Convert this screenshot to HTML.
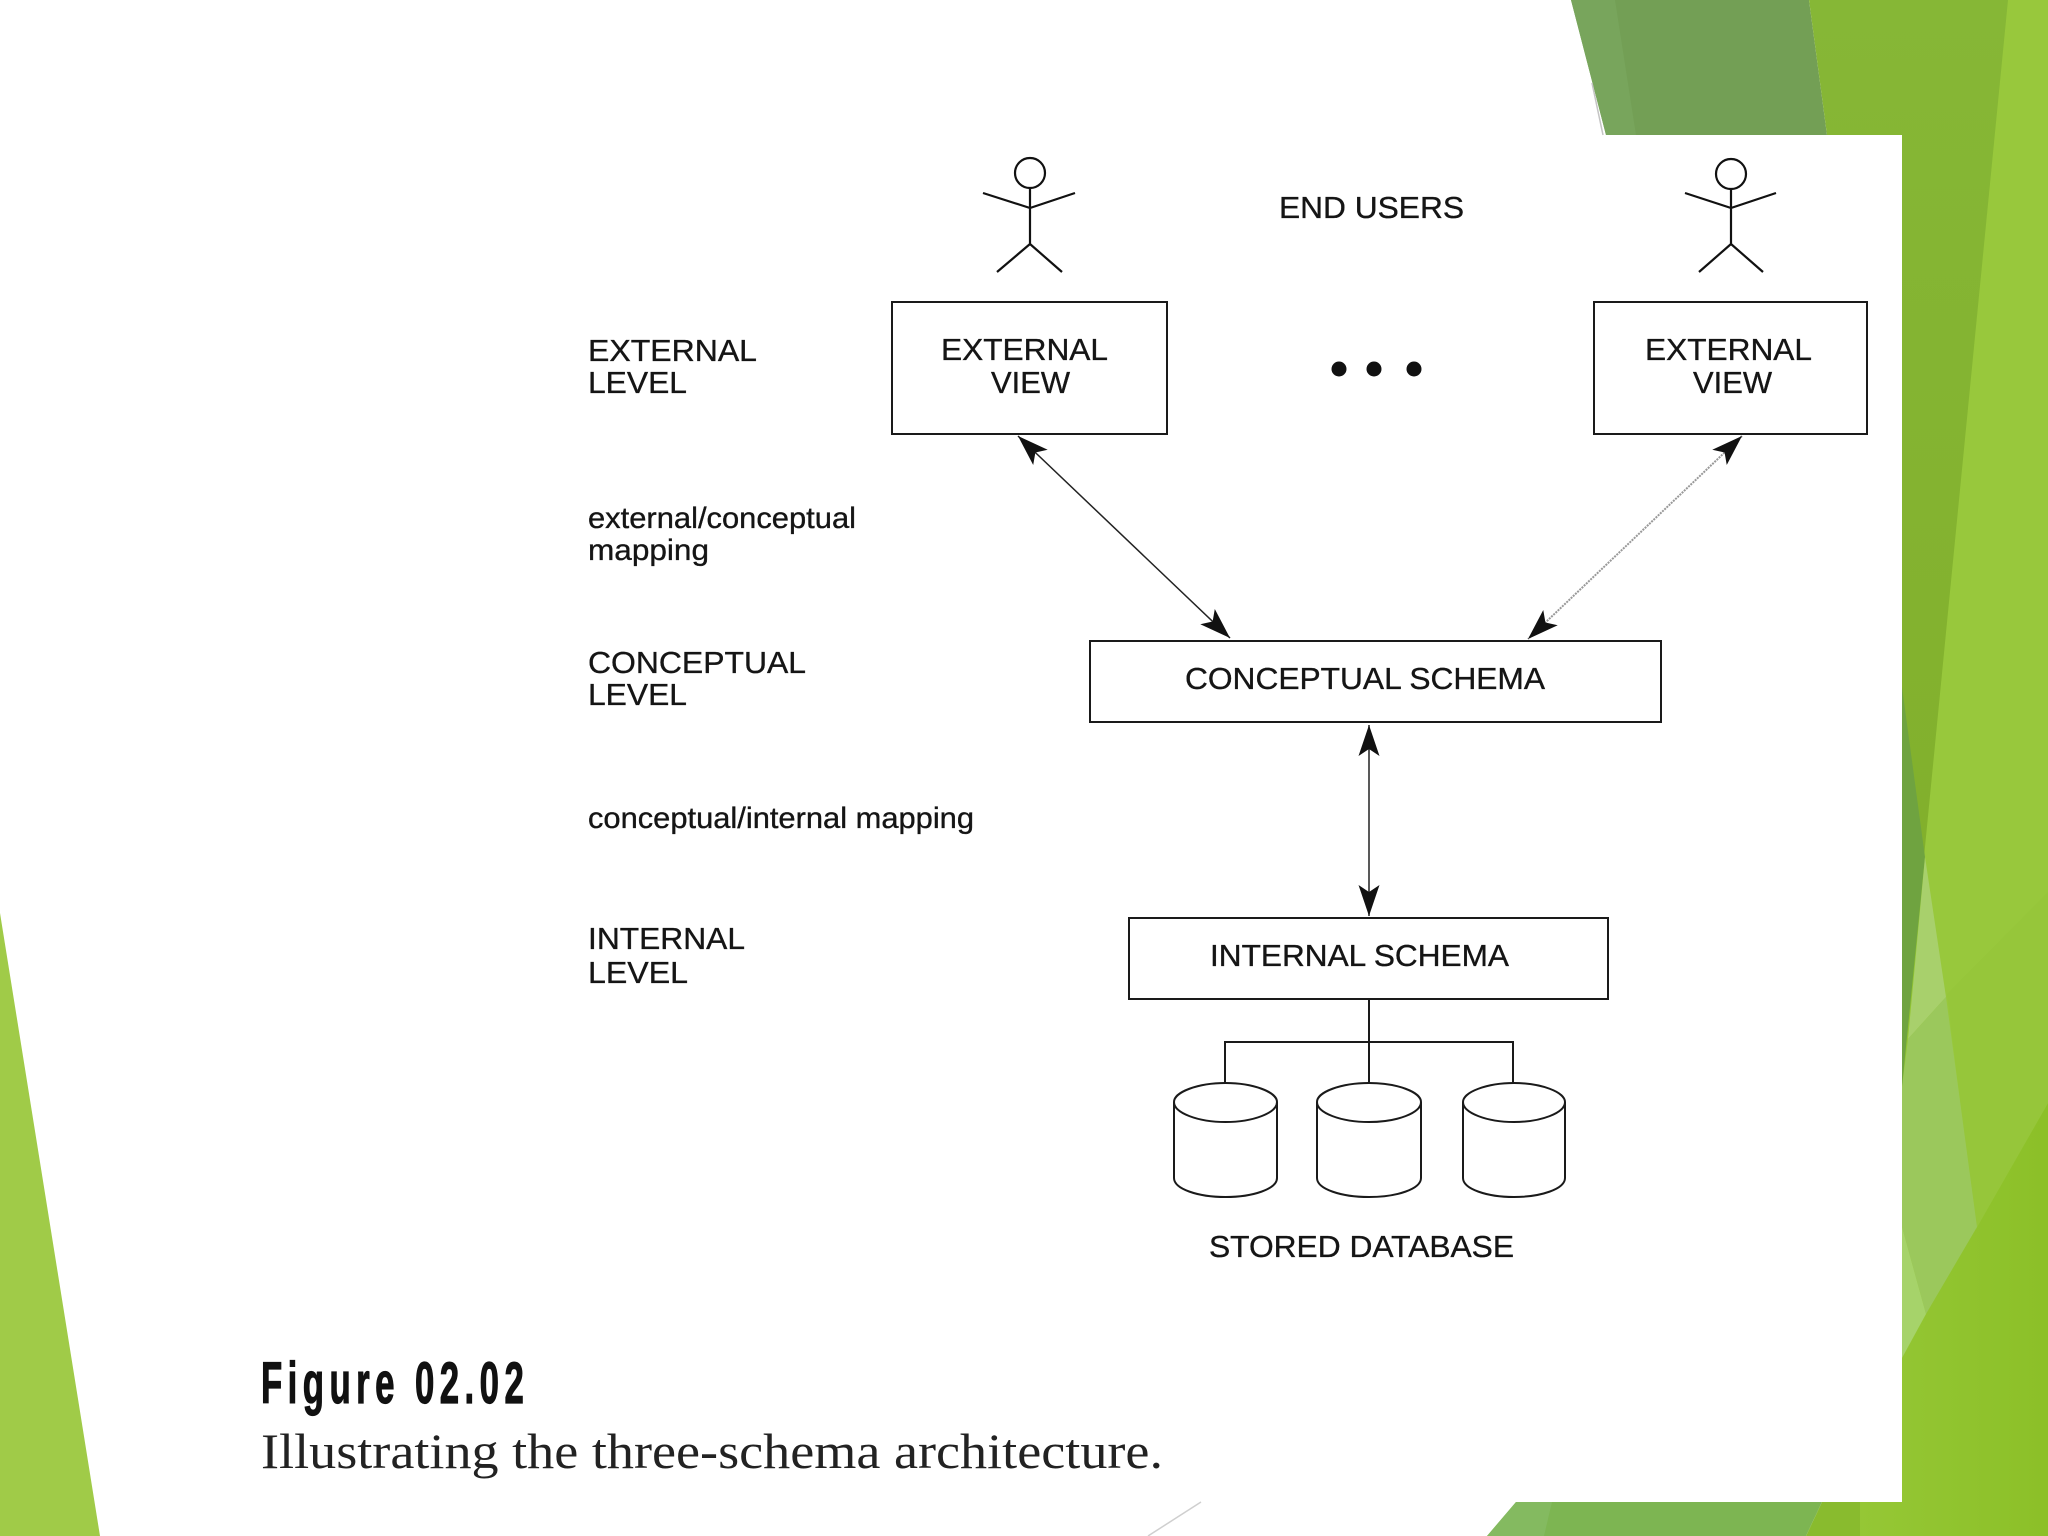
<!DOCTYPE html>
<html><head><meta charset="utf-8"><style>
html,body{margin:0;padding:0;background:#fff;width:2048px;height:1536px;overflow:hidden}
svg{display:block}
text{font-family:"Liberation Sans",Arial,sans-serif;font-size:31px;fill:#151515;stroke:#151515;stroke-width:.35px}
.s{font-size:30px}
</style></head><body>
<svg width="2048" height="1536" viewBox="0 0 2048 1536" xmlns="http://www.w3.org/2000/svg">
<defs>
<marker id="a" markerUnits="userSpaceOnUse" viewBox="-36 -14 40 28" refX="0" refY="0" markerWidth="40" markerHeight="28" orient="auto-start-reverse">
<path d="M0,0 L-31,-10.500 L-24,0 L-31,10.500 Z" fill="#111"/></marker>
<linearGradient id="g1" x1="0" y1="0" x2="0" y2="1"><stop offset="0" stop-color="#86b736"/><stop offset="1" stop-color="#82b02c"/></linearGradient>
<linearGradient id="g2" gradientUnits="userSpaceOnUse" x1="1860" y1="0" x2="2048" y2="0"><stop offset="0" stop-color="#95c735"/><stop offset="1" stop-color="#8cc028"/></linearGradient>
</defs>

<!-- background shapes -->
<polygon points="1571,0 1809,0 1827,135 1606,135" fill="#739f55"/>
<polygon points="1571,0 1615,0 1636,135 1606,135" fill="#78a55c"/>
<line x1="1592" y1="83" x2="1603" y2="135" stroke="#c4c4c4" stroke-width="1.500"/>
<rect x="1860" y="0" width="188" height="1536" fill="url(#g2)"/>
<polygon points="1809,0 2010,0 1925,857 1902,857 1880,400 1880,135 1827,135" fill="url(#g1)"/>
<polygon points="2008,0 2048,0 2048,1103 1976,1229 1924,857" fill="#98c83c"/>
<polygon points="1947,994 2048,892 2048,1103 1976,1229" fill="#96c63a"/>
<polygon points="1880,687 1902,687 1925,857 1902,1087 1880,1087" fill="#6fa340"/>
<polygon points="1925,857 1946,997 1908,1039" fill="#a8d06c"/>
<polygon points="1908,1039 1946,997 1977,1227 1926,1314 1902,1227 1902,1087" fill="#9bc85c"/>
<polygon points="1902,1227 1926,1314 1902,1358" fill="#a6d36a"/>
<polygon points="1516,1502 1822,1502 1806,1536 1487,1536" fill="#7db552"/>
<polygon points="1516,1502 1552,1502 1544,1536 1487,1536" fill="#84ba60"/>
<polygon points="1822,1502 1860,1502 1860,1536 1806,1536" fill="#89bb2e"/>
<polygon points="0,913 100,1536 0,1536" fill="#a0cb48"/>
<line x1="1148" y1="1536" x2="1201" y2="1502" stroke="#cfcfcf" stroke-width="1.500"/>
<!-- white panel cover -->
<polygon points="1620,135 1902,135 1902,1502 1600,1502" fill="#fff"/>

<!-- stick figures -->
<g fill="none" stroke="#111" stroke-width="2.200">
<circle cx="1030" cy="173" r="15"/>
<path d="M1030,188 V244 M983,193 L1030,208 L1075,193 M997,272 L1030,244 L1062,272"/>
<circle cx="1731" cy="174" r="15"/>
<path d="M1731,189 V244 M1685,193 L1731,208 L1776,193 M1699,272 L1731,244 L1763,272"/>
</g>

<!-- boxes -->
<g fill="none" stroke="#1a1a1a" stroke-width="2">
<rect x="892" y="302" width="275" height="132"/>
<rect x="1594" y="302" width="273" height="132"/>
<rect x="1090" y="641" width="571" height="81"/>
<rect x="1129" y="918" width="479" height="81"/>
<path d="M1369,999 V1083 M1225,1083 V1042 H1513 V1083"/>
</g>

<!-- dots -->
<circle cx="1339" cy="369" r="7.500" fill="#111"/>
<circle cx="1374" cy="369" r="7.500" fill="#111"/>
<circle cx="1414" cy="369" r="7.500" fill="#111"/>

<!-- arrows -->
<line x1="1018" y1="436" x2="1230" y2="638" stroke="#222" stroke-width="1.500" marker-start="url(#a)" marker-end="url(#a)"/>
<line x1="1742" y1="436" x2="1528" y2="639" stroke="#999" stroke-width="2" stroke-dasharray="2 1" marker-start="url(#a)" marker-end="url(#a)"/>
<line x1="1369" y1="725" x2="1369" y2="916" stroke="#222" stroke-width="1.500" marker-start="url(#a)" marker-end="url(#a)"/>

<!-- cylinders -->
<g fill="none" stroke="#1a1a1a" stroke-width="2">
<path d="M1174,1102 C1174,1092 1198,1083 1225.500,1083 C1253,1083 1277,1092 1277,1102 C1277,1113 1253,1122 1225.500,1122 C1198,1122 1174,1113 1174,1102 V1178 C1174,1189 1198,1197 1225.500,1197 C1253,1197 1277,1189 1277,1178 V1102"/>
<path d="M1317,1102 C1317,1092 1341,1083 1369,1083 C1397,1083 1421,1092 1421,1102 C1421,1113 1397,1122 1369,1122 C1341,1122 1317,1113 1317,1102 V1178 C1317,1189 1341,1197 1369,1197 C1397,1197 1421,1189 1421,1178 V1102"/>
<path d="M1463,1102 C1463,1092 1487,1083 1514,1083 C1541,1083 1565,1092 1565,1102 C1565,1113 1541,1122 1514,1122 C1487,1122 1463,1113 1463,1102 V1178 C1463,1189 1487,1197 1514,1197 C1541,1197 1565,1189 1565,1178 V1102"/>
</g>

<!-- labels -->
<text x="1279" y="218" textLength="185" lengthAdjust="spacingAndGlyphs">END USERS</text>
<text x="941" y="360" textLength="167" lengthAdjust="spacingAndGlyphs">EXTERNAL</text>
<text x="991" y="393" textLength="79" lengthAdjust="spacingAndGlyphs">VIEW</text>
<text x="1645" y="360" textLength="167" lengthAdjust="spacingAndGlyphs">EXTERNAL</text>
<text x="1693" y="393" textLength="79" lengthAdjust="spacingAndGlyphs">VIEW</text>
<text x="588" y="361" textLength="169" lengthAdjust="spacingAndGlyphs">EXTERNAL</text>
<text x="588" y="393" textLength="99" lengthAdjust="spacingAndGlyphs">LEVEL</text>
<text class="s" x="588" y="528" textLength="268" lengthAdjust="spacingAndGlyphs">external/conceptual</text>
<text class="s" x="588" y="560" textLength="121" lengthAdjust="spacingAndGlyphs">mapping</text>
<text x="588" y="673" textLength="218" lengthAdjust="spacingAndGlyphs">CONCEPTUAL</text>
<text x="588" y="705" textLength="99" lengthAdjust="spacingAndGlyphs">LEVEL</text>
<text class="s" x="588" y="828" textLength="386" lengthAdjust="spacingAndGlyphs">conceptual/internal mapping</text>
<text x="588" y="949" textLength="157" lengthAdjust="spacingAndGlyphs">INTERNAL</text>
<text x="588" y="983" textLength="100" lengthAdjust="spacingAndGlyphs">LEVEL</text>
<text x="1185" y="689" textLength="360" lengthAdjust="spacingAndGlyphs">CONCEPTUAL SCHEMA</text>
<text x="1210" y="966" textLength="299" lengthAdjust="spacingAndGlyphs">INTERNAL SCHEMA</text>
<text x="1209" y="1257" textLength="305" lengthAdjust="spacingAndGlyphs">STORED DATABASE</text>

<!-- caption -->
<text transform="translate(261,1403) scale(.6,1)" x="0" y="0" textLength="438" lengthAdjust="spacing" style="font-size:58px;font-weight:bold;fill:#111;stroke:#111;stroke-width:1.200px">Figure 02.02</text>
<text x="261" y="1468" textLength="902" lengthAdjust="spacingAndGlyphs" style='font-family:"Liberation Serif",serif;font-size:50px;fill:#222;stroke:none'>Illustrating the three-schema architecture.</text>
</svg>
</body></html>
